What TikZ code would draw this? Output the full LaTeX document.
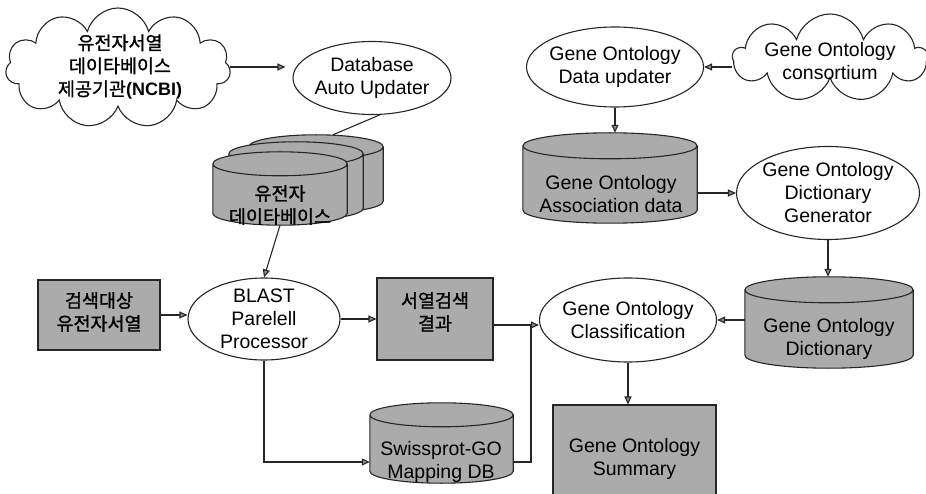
\documentclass[tikz,border=0pt]{standalone}
\usepackage{fontspec}
\setmainfont{Liberation Sans}
\newfontfamily\kr{Noto Sans CJK KR}[FakeBold=1.2]
\usetikzlibrary{shapes.geometric,shapes.symbols,arrows.meta,calc}
\newcommand\drawcyl[2]{%
  \filldraw[ln, fill=black!33] let \p1=(#1.north west), \p2=(#1.south east), \n1={(\x2-\x1)/2} in
    (\x1,\y1-#2) -- (\x1,\y2+#2) arc[start angle=180, end angle=360, x radius=\n1, y radius=#2]
    -- (\x2,\y1-#2) arc[start angle=0, end angle=180, x radius=\n1, y radius=#2] -- cycle
    (\x1,\y1-#2) arc[start angle=180, end angle=360, x radius=\n1, y radius=#2];
}
\begin{document}
\begin{tikzpicture}[x=1pt,y=-1pt,
  every node/.style={font=\fontsize{19.5}{23}\selectfont, align=center},
  kor/.style={font=\kr\fontsize{18.5}{23}\selectfont},
  ln/.style={line width=1.1pt, draw=black!85},
  arr/.style={ln, -{Triangle[length=8pt,width=7pt,fill=black!45]}},
  ell/.style={ellipse, draw=black!85, line width=1.1pt, fill=white, inner sep=-3pt},
  gbox/.style={rectangle, draw=black!85, line width=1.1pt, fill=black!33, inner sep=0pt},
  cyl/.style={rectangle, inner sep=0pt},
  cld/.style={cloud, draw=black!85, line width=1.1pt, fill=white, inner sep=0pt},
]
\useasboundingbox (0,0) rectangle (926,494);

% clouds and ellipses
\node[cld, cloud puffs=11, aspect=1.9, minimum width=225, minimum height=120] (ncbi) at (118,68) {};
\node[kor] (ncbi-t) at (120,67)
  {유전자서열\\데이타베이스\\제공기관{\rmfamily\bfseries\fontsize{18}{23}\selectfont(NCBI)}};
\node[ell, minimum width=158, minimum height=73] (dbup) at (372,78) {Database\\Auto Updater};
\node[ell, minimum width=165, minimum height=80] (goupd) at (615,67) {Gene Ontology\\Data updater};
\node[cld, cloud puffs=9, aspect=2.2, minimum width=194, minimum height=88] (gocons) at (830,58) {};
\node (gocons-t) at (830,61) {Gene Ontology\\consortium};

% database stack
\node[cyl, minimum width=134, minimum height=78] (dbback) at (316,174) {};
\drawcyl{dbback}{12pt}
\node[cyl, minimum width=134, minimum height=78] (dbmid) at (296,181) {};
\drawcyl{dbmid}{12pt}
\node[cyl, minimum width=134, minimum height=73] (dbfront) at (280,188.5) {};
\drawcyl{dbfront}{12pt}
\node[kor] (dbfront-t) at (280,205) {유전자\\데이타베이스};

% GO association
\node[cyl, minimum width=174, minimum height=90] (goassoc) at (610,178) {};
\drawcyl{goassoc}{13pt}
\node (goassoc-t) at (611,194) {Gene Ontology\\Association data};
\node[ell, minimum width=183, minimum height=93] (gogen) at (828,193) {Gene Ontology\\Dictionary\\Generator};

% middle row
\node[gbox, minimum width=122, minimum height=70] (box1) at (99,315) {};
\node[kor] (box1-t) at (99,312) {검색대상\\유전자서열};
\node[ell, minimum width=152, minimum height=82] (blast) at (264,319) {BLAST\\Parelell\\Processor};
\node[gbox, minimum width=116, minimum height=82] (box2) at (435,319) {};
\node[kor] (box2-t) at (435,312) {서열검색\\결과};
\node[ell, minimum width=163, minimum height=84] (goclass) at (628,320) {Gene Ontology\\Classification};
\node[cyl, minimum width=168, minimum height=91] (godict) at (829,322.5) {};
\drawcyl{godict}{13pt}
\node (godict-t) at (829,339) {Gene Ontology\\Dictionary};

% bottom row
\node[cyl, minimum width=143, minimum height=80] (swiss) at (441.5,443) {};
\drawcyl{swiss}{12pt}
\node (swiss-t) at (441,462) {Swissprot-GO\\Mapping DB};
\node[gbox, minimum width=163, minimum height=92] (gosum) at (634.5,451) {};
\node (gosum-t) at (634.5,459) {Gene Ontology\\Summary};

\coordinate (jn) at (531,325);

% connectors
\draw[arr] (ncbi.east |- 0,67) -- ([xshift=-7pt]dbup.west |- 0,67);
\draw[ln] (dbup.-78) -- ([xshift=17pt]dbback.north);
\draw[arr] (dbfront.south) -- (blast.north);
\draw[arr] (gocons.west |- goupd.east) -- (goupd.east);
\draw[arr] (goupd.south) -- (goupd.south |- goassoc.north);
\draw[arr] (goassoc.east |- gogen.west) -- (gogen.west);
\draw[arr] (gogen.south) -- (gogen.south |- godict.north);
\draw[arr] (box1.east) -- (box1.east -| blast.west);
\draw[arr] (blast.east) -- (blast.east -| box2.west);
\draw[arr] (blast.south) |- ([yshift=-19pt]swiss.west);
\draw[arr] (box2.east |- jn) -- (jn -| goclass.west);
\draw[ln] ([yshift=-19pt]swiss.east) -| (jn);
\draw[arr] (godict.west |- goclass.east) -- (goclass.east);
\draw[arr] (goclass.south) -- (goclass.south |- gosum.north);
\end{tikzpicture}
\end{document}
